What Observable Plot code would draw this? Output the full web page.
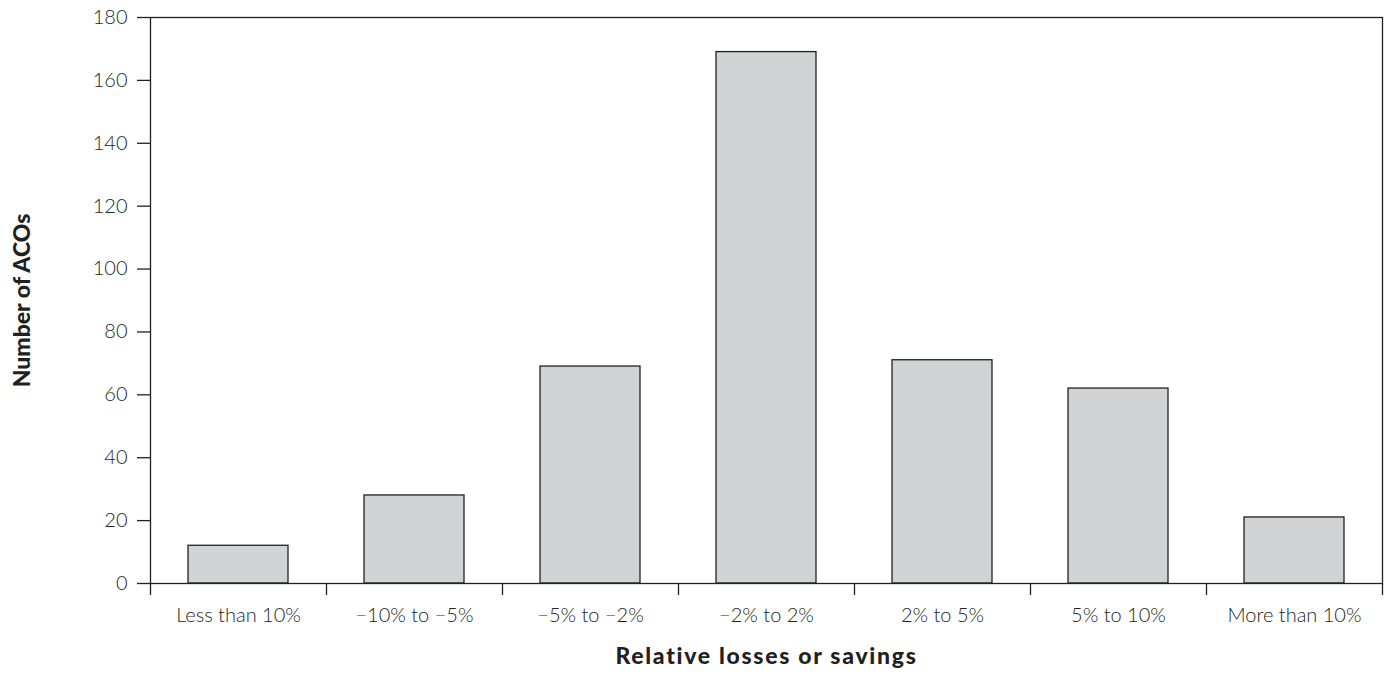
<!DOCTYPE html>
<html>
<head>
<meta charset="utf-8">
<script src="https://cdn.jsdelivr.net/npm/d3@7"></script>
<script src="https://cdn.jsdelivr.net/npm/@observablehq/plot@0.6"></script>
<style>
  html, body { margin: 0; padding: 0; background: #fff; }
  svg { display: block; }
</style>
</head>
<body>
<div id="chart"></div>
<script>
const categories = ["Less than 10%", "−10% to −5%", "−5% to −2%", "−2% to 2%", "2% to 5%", "5% to 10%", "More than 10%"];
const counts = [12, 28, 69, 169, 71, 62, 21];
const yTicks = [0, 20, 40, 60, 80, 100, 120, 140, 160, 180];
const xLabel = "Relative losses or savings";
const yLabel = "Number of ACOs";

const rows = categories.map((c, i) => ({category: c, index: i, count: counts[i]}));
const ink = "#231f20";

const chart = Plot.plot({
  width: 1385,
  height: 681,
  marginLeft: 150,
  marginRight: 3,
  marginTop: 17,
  marginBottom: 98,
  style: {fontFamily: "Lato, 'Open Sans', sans-serif", fontSize: "20px", fontWeight: 300, color: ink, background: "#fff"},
  x: {type: "linear", domain: [0, categories.length]},
  y: {domain: [0, 180]},
  marks: [
    Plot.rectY(rows, {x1: d => d.index, x2: d => d.index + 1, y: "count", insetLeft: 38, insetRight: 38, fill: "#d1d3d4", stroke: ink, strokeWidth: 1.3}),
    Plot.axisY({ticks: yTicks, tickSize: 13, tickPadding: 10, stroke: ink, strokeOpacity: 1, strokeWidth: 1.3, label: null}),
    Plot.axisX({ticks: d3.range(categories.length + 1), tickSize: 12, tickFormat: () => "", stroke: ink, strokeOpacity: 1, strokeWidth: 1.3, label: null}),
    Plot.axisX({ticks: d3.range(categories.length).map(i => i + 0.5), tickSize: 0, tickPadding: 24, tickFormat: v => categories[Math.floor(v)], label: null}),
    Plot.frame({stroke: ink, strokeWidth: 1.3}),
    Plot.text([xLabel], {frameAnchor: "bottom", dy: 80, text: d => d, fontSize: 23, fontWeight: 900, fill: ink}),
    Plot.text([yLabel], {frameAnchor: "left", textAnchor: "middle", dx: -128, rotate: -90, text: d => d, fontSize: 23, fontWeight: 900, fill: ink})
  ]
});
d3.select(chart).selectAll("text").filter(function() { return this.textContent === xLabel; }).attr("letter-spacing", "1.7px");
document.getElementById("chart").appendChild(chart);
</script>
</body>
</html>
